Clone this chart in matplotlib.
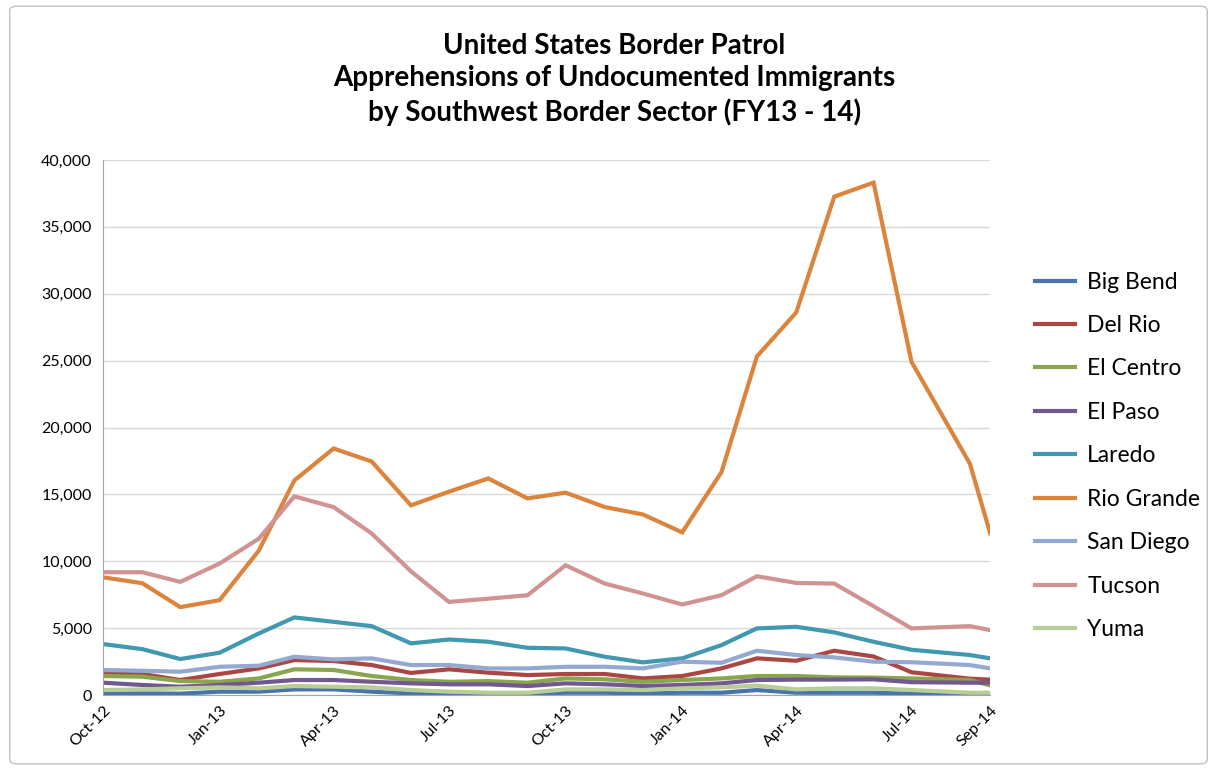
import numpy as np
import pandas as pd
import matplotlib
matplotlib.use("Agg")
import matplotlib.pyplot as plt
import matplotlib.dates as mdates
from matplotlib.ticker import FuncFormatter
from matplotlib.patches import FancyBboxPatch

plt.rcParams['font.family'] = ['Lato', 'DejaVu Sans']

# dates of the monthly points (the Aug-14 point sits mid-month in the source)
dates = pd.to_datetime([
    "2012-10-01", "2012-11-01", "2012-12-01", "2013-01-01", "2013-02-01", "2013-03-01",
    "2013-04-01", "2013-05-01", "2013-06-01", "2013-07-01", "2013-08-01", "2013-09-01",
    "2013-10-01", "2013-11-01", "2013-12-01", "2014-01-01", "2014-02-01", "2014-03-01",
    "2014-04-01", "2014-05-01", "2014-06-01", "2014-07-01", "2014-08-16", "2014-09-01",
])

big_bend = [120, 120, 100, 250, 250, 420, 420, 250, 120, 100, 80, 80,
            170, 170, 120, 170, 170, 370, 170, 170, 170, 100, 100, 80]
del_rio = [1620, 1570, 1120, 1570, 1990, 2610, 2540, 2240, 1650, 1920, 1670, 1490,
           1570, 1570, 1240, 1420, 1990, 2740, 2560, 3310, 2880, 1700, 1220, 1150]
el_centro = [1420, 1370, 1040, 990, 1240, 1920, 1870, 1420, 1120, 990, 1040, 920,
             1240, 1170, 990, 1120, 1240, 1420, 1420, 1320, 1300, 1240, 1120, 720]
el_paso = [920, 750, 620, 750, 920, 1120, 1120, 990, 870, 800, 800, 670,
           870, 800, 670, 750, 870, 1120, 1150, 1150, 1170, 960, 920, 920]
laredo = [3810, 3430, 2690, 3160, 4600, 5800, 5470, 5150, 3860, 4150, 3980, 3530,
          3480, 2860, 2440, 2740, 3730, 4980, 5100, 4680, 3980, 3380, 2990, 2740]
rio_grande = [8800, 8360, 6570, 7090, 10800, 16040, 18430, 17460, 14180, 15200, 16190, 14700,
              15130, 14050, 13500, 12160, 16660, 25320, 28600, 37260, 38310, 24900, 17300, 12100]
san_diego = [1870, 1810, 1740, 2110, 2190, 2860, 2660, 2740, 2240, 2240, 1990, 1990,
             2110, 2110, 1990, 2490, 2410, 3310, 2990, 2810, 2490, 2450, 2240, 1990]
tucson = [9180, 9180, 8460, 9830, 11690, 14850, 14050, 12080, 9250, 6960, 7200, 7460,
          9700, 8330, 7590, 6770, 7460, 8880, 8380, 8330, 6640, 4980, 5150, 4850]
yuma = [370, 420, 500, 570, 500, 670, 620, 570, 370, 250, 170, 170,
        420, 420, 370, 500, 570, 700, 420, 500, 500, 370, 170, 170]

names = ["Big Bend", "Del Rio", "El Centro", "El Paso", "Laredo",
         "Rio Grande", "San Diego", "Tucson", "Yuma"]
series = [big_bend, del_rio, el_centro, el_paso, laredo,
          rio_grande, san_diego, tucson, yuma]
colors = ["#4674AB", "#AA4643", "#89A54E", "#71588F", "#4198AF",
          "#DB843D", "#93A9CF", "#D19392", "#B9CD96"]

tick_dates = pd.to_datetime(["2012-10-01", "2013-01-01", "2013-04-01", "2013-07-01",
                             "2013-10-01", "2014-01-01", "2014-04-01", "2014-07-01",
                             "2014-09-01"])

fig = plt.figure(figsize=(12.17, 7.7), dpi=100)
ax = fig.add_axes([0.0846, 0.0974, 0.729, 0.6948])

# light chart border
fig.patches.append(FancyBboxPatch((0.008, 0.008), 0.984, 0.984,
                                  boxstyle="round,pad=0,rounding_size=0.006",
                                  transform=fig.transFigure, fill=False,
                                  edgecolor="#BFBFBF", linewidth=1))

for vals, name, c in zip(series, names, colors):
    ax.plot(dates, vals, color=c, lw=3, label=name, solid_joinstyle='miter')

ax.set_ylim(0, 40000)
ax.set_xlim(dates[0], dates[-1])
ax.set_yticks(np.arange(0, 40001, 5000))
ax.yaxis.set_major_formatter(FuncFormatter(lambda v, p: f"{int(v):,}"))
ax.set_xticks(tick_dates)
ax.xaxis.set_major_formatter(mdates.DateFormatter("%b-%y"))
for lab in ax.get_xticklabels():
    lab.set_rotation(45)
    lab.set_ha('right')
    lab.set_rotation_mode('anchor')
ax.tick_params(axis='both', length=0, labelsize=11.5, colors='#000000')
ax.tick_params(axis='x', pad=6)
ax.tick_params(axis='y', pad=8)

ax.grid(axis='y', color='#D9D9D9', lw=1)
ax.set_axisbelow(True)
for s in ['top', 'right']:
    ax.spines[s].set_visible(False)
ax.spines['left'].set_color('#A6A6A6')
ax.spines['bottom'].set_color('#A6A6A6')

fig.text(0.505, 0.897, "United States Border Patrol\nApprehensions of Undocumented Immigrants\nby Southwest Border Sector (FY13 - 14)",
         ha='center', va='center', fontsize=20, fontweight='bold', linespacing=1.3)

leg = ax.legend(loc='center left', bbox_to_anchor=(1.0507, 0.447), frameon=False,
                fontsize=16.5, handlelength=1.75, labelspacing=0.98, handletextpad=0.52,
                borderpad=0, borderaxespad=0)

fig.savefig("out.png", dpi=100)
